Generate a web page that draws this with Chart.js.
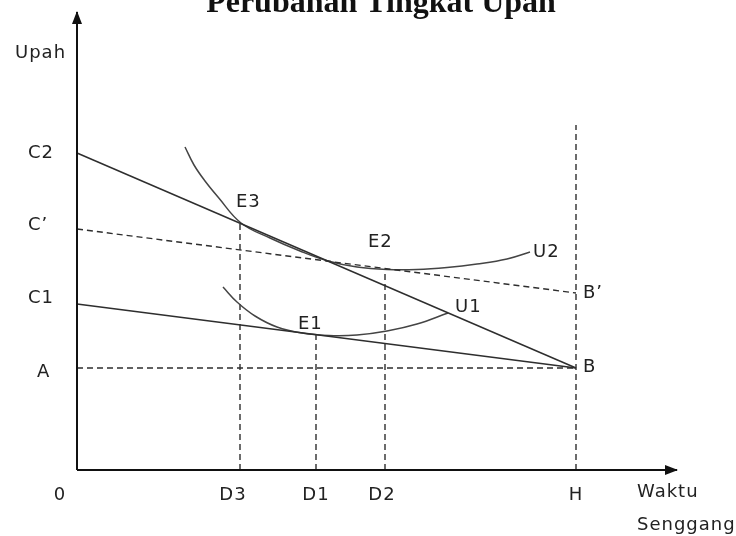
<!DOCTYPE html>
<html>
<head>
<meta charset="utf-8">
<script src="https://cdn.jsdelivr.net/npm/chart.js@4"></script>
<style>
  html, body { margin: 0; padding: 0; background: #fff; }
  canvas { display: block; }
</style>
</head>
<body>
<canvas id="chart" width="736" height="536"></canvas>
<script>
// positions, same unit on both axes (origin = 0)
const xTickNames = ['D3', 'D1', 'D2', 'H'];
const xTickValues = [163, 239, 308, 499];
const yTickNames = ['A', 'C1', 'C\u2019', 'C2'];
const yTickValues = [102, 166, 241, 317];
const bPrimeValue = 177;

// where the dashed drop lines stop (the tangency points)
const dropTops = [246, 135, 198, 345];

// indifference curves, points
const u2Points = [
  { x: 108, y: 323 }, { x: 117, y: 305 }, { x: 128, y: 289 }, { x: 141, y: 273 },
  { x: 164, y: 247 }, { x: 193, y: 232 }, { x: 223, y: 219 }, { x: 251, y: 209 },
  { x: 280, y: 203 }, { x: 310, y: 200.5 }, { x: 340, y: 200.5 }, { x: 370, y: 202.5 },
  { x: 400, y: 206 }, { x: 430, y: 211 }, { x: 453, y: 218 }
];
const u1Points = [
  { x: 146, y: 183 }, { x: 160, y: 168 }, { x: 178, y: 154 }, { x: 200, y: 143 },
  { x: 225, y: 137 }, { x: 252, y: 134.5 }, { x: 280, y: 135 }, { x: 310, y: 139 },
  { x: 340, y: 146 }, { x: 371, y: 157 }
];

const xAxisEnd = 600;
const yAxisEnd = 458;

const [A, C1, Cp, C2] = yTickValues;
const H = xTickValues[3];

const solid = (data, color, width) => ({
  data: data,
  showLine: true,
  borderColor: color,
  borderWidth: width,
  pointRadius: 0,
  fill: false,
  clip: false,
});
const dashed = (data) => ({ ...solid(data, '#2e2e2e', 1.4), borderDash: [6, 4] });
const curve = (data) => ({ ...solid(data, '#444', 1.5), tension: 0.4 });

const datasets = [
  solid([{ x: 0, y: 0 }, { x: xAxisEnd, y: 0 }], '#111', 2),
  solid([{ x: 0, y: 0 }, { x: 0, y: yAxisEnd }], '#111', 2),
  dashed([{ x: 0, y: A }, { x: H, y: A }]),
  dashed([{ x: 0, y: Cp }, { x: H, y: bPrimeValue }]),
  solid([{ x: 0, y: C2 }, { x: H, y: A }], '#2e2e2e', 1.5),
  solid([{ x: 0, y: C1 }, { x: H, y: A }], '#2e2e2e', 1.5),
  curve(u2Points),
  curve(u1Points),
];
xTickValues.forEach((v, i) => {
  datasets.push(dashed([{ x: v, y: 0 }, { x: v, y: dropTops[i] }]));
});

const textPlugin = {
  id: 'textPlugin',
  afterDatasetsDraw(chart) {
    const c = chart.ctx;
    const xs = chart.scales.x;
    const ys = chart.scales.y;
    const px = (v) => xs.getPixelForValue(v);
    const py = (v) => ys.getPixelForValue(v);

    c.save();
    // arrow heads
    c.fillStyle = '#111';
    c.beginPath();
    c.moveTo(px(0), py(yAxisEnd) - 1);
    c.lineTo(px(0) - 5, py(yAxisEnd) + 12);
    c.lineTo(px(0) + 5, py(yAxisEnd) + 12);
    c.closePath();
    c.fill();
    c.beginPath();
    c.moveTo(px(xAxisEnd) + 1, py(0));
    c.lineTo(px(xAxisEnd) - 12, py(0) - 5);
    c.lineTo(px(xAxisEnd) - 12, py(0) + 5);
    c.closePath();
    c.fill();

    // title (cut by the top edge)
    c.font = 'bold 32px "Liberation Serif"';
    c.textAlign = 'center';
    c.textBaseline = 'alphabetic';
    c.fillText('Perubahan Tingkat Upah', 381, 12);

    c.font = '18px "DejaVu Sans"';
    c.fillStyle = '#222';
    c.letterSpacing = '1px';
    c.textAlign = 'left';

    // y tick names
    const yOff = [[37, 9], [28, -1], [28, 1], [28, 5]];
    yTickNames.forEach((t, i) => {
      c.fillText(t, yOff[i][0], py(yTickValues[i]) + yOff[i][1]);
    });
    c.fillText('Upah', 15, 58);

    // x tick names
    c.textAlign = 'center';
    const xOff = [-7, 0, -3, 0];
    xTickNames.forEach((t, i) => {
      c.fillText(t, px(xTickValues[i]) + xOff[i], 500);
    });
    c.fillText('0', px(0) - 17, 500);

    c.textAlign = 'left';
    c.fillText('Waktu', 637, 497);
    c.fillText('Senggang', 637, 530);

    // point names
    c.fillText('E3', px(xTickValues[0]) - 4, py(dropTops[0]) - 17);
    c.fillText('E2', px(xTickValues[2]) - 17, py(dropTops[2]) - 25);
    c.fillText('E1', px(xTickValues[1]) - 18, py(dropTops[1]) - 6);
    c.fillText('U2', px(u2Points[u2Points.length - 1].x) + 3, py(u2Points[u2Points.length - 1].y) + 5);
    c.fillText('U1', px(u1Points[u1Points.length - 1].x) + 7, py(u1Points[u1Points.length - 1].y) - 1);
    c.fillText('B\u2019', px(H) + 7, py(bPrimeValue) + 5);
    c.fillText('B', px(H) + 7, py(A) + 4);
    c.restore();
  },
};

new Chart(document.getElementById('chart'), {
  type: 'scatter',
  data: { datasets: datasets },
  options: {
    responsive: false,
    animation: false,
    layout: { padding: { left: 77, right: 19, top: 10, bottom: 66 } },
    scales: {
      x: { type: 'linear', min: 0, max: 640, display: false },
      y: { type: 'linear', min: 0, max: 460, display: false },
    },
    plugins: {
      legend: { display: false },
      tooltip: { enabled: false },
      title: { display: false },
    },
  },
  plugins: [textPlugin],
});
</script>
</body>
</html>
